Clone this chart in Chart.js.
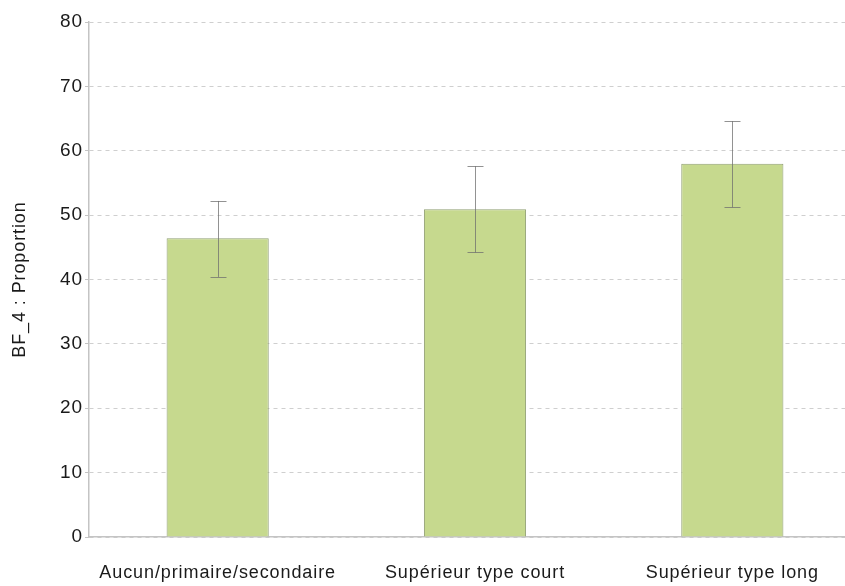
<!DOCTYPE html>
<html>
<head>
<meta charset="utf-8">
<script src="https://cdn.jsdelivr.net/npm/chart.js@4/dist/chart.umd.min.js"></script>
<style>
  html, body { margin: 0; padding: 0; background: #fff; overflow: hidden; }
  #wrap { position: absolute; left: 0; top: 0; width: 861px; height: 586px; }
</style>
</head>
<body>
<div id="wrap"><canvas id="c" width="861" height="586"></canvas></div>
<script>
// Niveau de diplôme -> proportion (%) avec intervalle de confiance
const categories = ['Aucun/primaire/secondaire', 'Supérieur type court', 'Supérieur type long'];
const proportion = [46.4, 50.9, 58.0];
const ciLow = [40.4, 44.2, 51.2];
const ciHigh = [52.2, 57.6, 64.6];
const yTicks = [0, 10, 20, 30, 40, 50, 60, 70, 80];
const yTitle = 'BF_4 : Proportion';

const FONT = "'Liberation Sans', Arial, Helvetica, sans-serif";
const SPACING = '0.9px';

// Espacement des lettres (réappliqué car le redimensionnement du canvas remet le contexte à zéro)
const letterSpacing = {
  id: 'letterSpacing',
  beforeLayout(chart) { chart.ctx.letterSpacing = SPACING; },
  beforeDraw(chart) { chart.ctx.letterSpacing = SPACING; }
};

// Intervalles de confiance dessinés par-dessus les barres
const errorBars = {
  id: 'errorBars',
  afterDatasetsDraw(chart) {
    const ctx = chart.ctx;
    const y = chart.scales.y;
    const meta = chart.getDatasetMeta(0);
    ctx.save();
    ctx.strokeStyle = 'rgba(110,110,110,0.75)';
    ctx.lineWidth = 1;
    meta.data.forEach((bar, i) => {
      const x = Math.round(bar.x) + 0.5;
      const yl = y.getPixelForValue(ciLow[i]);
      const yh = y.getPixelForValue(ciHigh[i]);
      const half = 8;
      ctx.beginPath();
      ctx.moveTo(x, yh); ctx.lineTo(x, yl);
      ctx.moveTo(x - half, Math.round(yh) + 0.5); ctx.lineTo(x + half, Math.round(yh) + 0.5);
      ctx.moveTo(x - half, Math.round(yl) + 0.5); ctx.lineTo(x + half, Math.round(yl) + 0.5);
      ctx.stroke();
    });
    ctx.restore();
  }
};

new Chart(document.getElementById('c'), {
  type: 'bar',
  data: {
    labels: categories,
    datasets: [{
      data: proportion,
      backgroundColor: '#c6d98e',
      borderColor: '#909f73',
      borderWidth: 1,
      barPercentage: 0.397,
      categoryPercentage: 1.0
    }]
  },
  options: {
    responsive: false,
    devicePixelRatio: 1,
    animation: false,
    layout: { padding: { top: 22, left: 0, right: 0, bottom: 0 } },
    plugins: {
      legend: { display: false },
      tooltip: { enabled: false }
    },
    scales: {
      x: {
        grid: { display: false, drawTicks: false },
        border: { display: true, color: '#c4c4c4', width: 1.5 },
        ticks: {
          color: '#1a1a1a',
          font: { family: FONT, size: 18 },
          padding: 25,
          maxRotation: 0,
          autoSkip: false
        },
        afterFit(scale) { scale.height = 49; }
      },
      y: {
        min: 0,
        max: 80,
        afterBuildTicks(scale) { scale.ticks = yTicks.map(v => ({ value: v })); },
        grid: {
          color: '#cfcfcf',
          lineWidth: 1,
          drawTicks: true,
          tickLength: 4,
          tickColor: '#c4c4c4',
          tickWidth: 1
        },
        border: { display: true, color: '#c4c4c4', width: 1.5, dash: [4, 4] },
        ticks: {
          color: '#1a1a1a',
          font: { family: FONT, size: 19 },
          padding: 2
        },
        title: {
          display: true,
          text: yTitle,
          color: '#1a1a1a',
          font: { family: FONT, size: 18 },
          padding: { top: 9, bottom: 0 }
        },
        afterFit(scale) { scale.width = 89; }
      }
    }
  },
  plugins: [letterSpacing, errorBars]
});
</script>
</body>
</html>
